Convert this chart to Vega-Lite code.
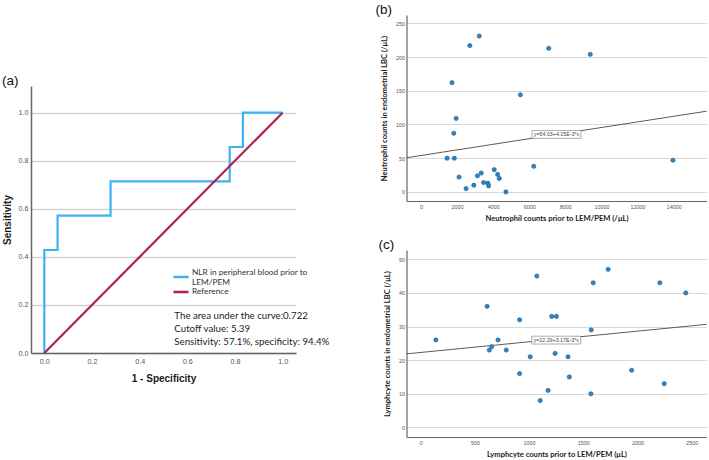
{
  "$schema": "https://vega.github.io/schema/vega-lite/v6.json",
  "padding": {"left": 2, "top": 2, "right": 0, "bottom": 0},
  "background": "white",
  "config": {
    "view": {"stroke": null},
    "axis": {"ticks": false, "labelFont": "Liberation Sans", "labelColor": "#555", "domainColor": "#666", "titleColor": "#1a1a1a", "titleFontWeight": "bold", "labelFlush": false, "labelOverlap": false}
  },
  "datasets": {
    "roc": [
      {"series": "NLR in peripheral blood prior to LEM/PEM", "step": 0, "fpr": 0, "tpr": 0},
      {"series": "NLR in peripheral blood prior to LEM/PEM", "step": 1, "fpr": 0, "tpr": 0.4286},
      {"series": "NLR in peripheral blood prior to LEM/PEM", "step": 2, "fpr": 0.0556, "tpr": 0.4286},
      {"series": "NLR in peripheral blood prior to LEM/PEM", "step": 3, "fpr": 0.0556, "tpr": 0.5714},
      {"series": "NLR in peripheral blood prior to LEM/PEM", "step": 4, "fpr": 0.2778, "tpr": 0.5714},
      {"series": "NLR in peripheral blood prior to LEM/PEM", "step": 5, "fpr": 0.2778, "tpr": 0.7143},
      {"series": "NLR in peripheral blood prior to LEM/PEM", "step": 6, "fpr": 0.7778, "tpr": 0.7143},
      {"series": "NLR in peripheral blood prior to LEM/PEM", "step": 7, "fpr": 0.7778, "tpr": 0.8571},
      {"series": "NLR in peripheral blood prior to LEM/PEM", "step": 8, "fpr": 0.8333, "tpr": 0.8571},
      {"series": "NLR in peripheral blood prior to LEM/PEM", "step": 9, "fpr": 0.8333, "tpr": 1},
      {"series": "NLR in peripheral blood prior to LEM/PEM", "step": 10, "fpr": 1, "tpr": 1},
      {"series": "Reference", "step": 0, "fpr": 0, "tpr": 0},
      {"series": "Reference", "step": 1, "fpr": 1, "tpr": 1}
    ],
    "notes": [
      {"note": ["The area under the curve:0.722", "Cutoff value: 5.39", "Sensitivity: 57.1%, specificity: 94.4%"]}
    ],
    "neut": [
      {"blood": 1450, "lbc": 50}, {"blood": 1720, "lbc": 162}, {"blood": 1820, "lbc": 87},
      {"blood": 1850, "lbc": 50}, {"blood": 1950, "lbc": 109}, {"blood": 2110, "lbc": 22},
      {"blood": 2500, "lbc": 5}, {"blood": 2710, "lbc": 217}, {"blood": 2930, "lbc": 10},
      {"blood": 3130, "lbc": 24}, {"blood": 3230, "lbc": 231}, {"blood": 3340, "lbc": 28},
      {"blood": 3470, "lbc": 14}, {"blood": 3710, "lbc": 13}, {"blood": 3750, "lbc": 9},
      {"blood": 4060, "lbc": 33}, {"blood": 4250, "lbc": 26}, {"blood": 4340, "lbc": 20},
      {"blood": 4710, "lbc": 0}, {"blood": 5510, "lbc": 144}, {"blood": 6250, "lbc": 38},
      {"blood": 7080, "lbc": 213}, {"blood": 9380, "lbc": 204}, {"blood": 13960, "lbc": 47}
    ],
    "neutFit": [
      {"blood": -800, "lbc": 50.71}, {"blood": 15820, "lbc": 119.68}
    ],
    "lymph": [
      {"blood": 140, "lbc": 26}, {"blood": 612, "lbc": 36}, {"blood": 633, "lbc": 23},
      {"blood": 655, "lbc": 24}, {"blood": 713, "lbc": 26}, {"blood": 789, "lbc": 23},
      {"blood": 912, "lbc": 32}, {"blood": 912, "lbc": 16}, {"blood": 1010, "lbc": 21},
      {"blood": 1071, "lbc": 45}, {"blood": 1102, "lbc": 8}, {"blood": 1175, "lbc": 11},
      {"blood": 1209, "lbc": 33}, {"blood": 1239, "lbc": 22}, {"blood": 1252, "lbc": 33},
      {"blood": 1359, "lbc": 21}, {"blood": 1371, "lbc": 15}, {"blood": 1570, "lbc": 10},
      {"blood": 1573, "lbc": 29}, {"blood": 1591, "lbc": 43}, {"blood": 1729, "lbc": 47},
      {"blood": 1946, "lbc": 17}, {"blood": 2206, "lbc": 43}, {"blood": 2246, "lbc": 13},
      {"blood": 2445, "lbc": 40}
    ],
    "lymphFit": [
      {"blood": -131, "lbc": 21.875}, {"blood": 2636, "lbc": 30.65}
    ]
  },
  "hconcat": [
    {
      "spacing": 0,
      "vconcat": [
        {"width": 265, "height": 58, "data": {"values": []}, "mark": "point", "encoding": {}},
        {
          "title": {"text": "(a)", "anchor": "start", "frame": "bounds", "font": "Liberation Sans", "fontSize": 13.5, "fontWeight": "normal", "offset": -1, "color": "#111"},
          "width": 265,
          "height": 267,
          "layer": [
            {
              "data": {"name": "roc"},
              "mark": {"type": "line", "strokeWidth": 2.2},
              "encoding": {
                "x": {"field": "fpr", "type": "quantitative", "scale": {"domain": [-0.056, 1.056], "nice": false, "zero": false},
                  "axis": {"values": [0, 0.2, 0.4, 0.6, 0.8, 1.0], "format": ".1f", "grid": false, "domainWidth": 1.5, "labelFontSize": 7.2, "labelPadding": 4, "title": "1 - Specificity", "titleFont": "Liberation Sans", "titleFontSize": 10, "titlePadding": 9}},
                "y": {"field": "tpr", "type": "quantitative", "scale": {"domain": [0, 1.111], "nice": false, "zero": false},
                  "axis": {"values": [0, 0.2, 0.4, 0.6, 0.8, 1.0], "format": ".1f", "grid": true, "gridColor": "#d4d4d4", "gridWidth": 1.4, "domainWidth": 1.5, "labelFontSize": 7.2, "labelPadding": 3, "title": "Sensitivity", "titleFont": "Liberation Sans", "titleFontSize": 10, "titlePadding": 6}},
                "color": {"field": "series", "type": "nominal",
                  "scale": {"domain": ["NLR in peripheral blood prior to LEM/PEM", "Reference"], "range": ["#3db2f2", "#ad2158"]},
                  "legend": {"orient": "none", "legendX": 145, "legendY": 257, "title": null, "symbolType": "M-2,0H2", "symbolStrokeWidth": 2.5, "symbolSize": 56.25, "symbolFillColor": "transparent", "labelFont": "Lato", "labelFontSize": 8.3, "labelColor": "#333", "labelLimit": 300, "rowPadding": 0, "labelOffset": 6,
                    "labelExpr": "datum.label == 'Reference' ? datum.label : ['NLR in peripheral blood prior to', 'LEM/PEM']",
                    "encode": {"labels": {"update": {"dy": {"signal": "datum.label == 'Reference' ? 0 : -4.5"}}}}}},
                "order": {"field": "step", "type": "quantitative"}
              }
            },
            {
              "data": {"name": "notes"},
              "mark": {"type": "text", "align": "left", "baseline": "middle", "font": "Lato", "fontSize": 9.7, "lineHeight": 13, "color": "#222"},
              "encoding": {
                "x": {"datum": 0.5455},
                "y": {"datum": 0.154},
                "text": {"field": "note"}
              }
            }
          ]
        }
      ]
    },
    {
      "spacing": 15,
      "vconcat": [
        {
          "title": {"text": "(b)", "anchor": "start", "frame": "bounds", "font": "Liberation Sans", "fontSize": 13.5, "fontWeight": "normal", "offset": -1, "dx": -5, "color": "#111"},
          "width": 300,
          "height": 186,
          "encoding": {
            "x": {"field": "blood", "type": "quantitative", "scale": {"domain": [-800, 15820], "nice": false, "zero": false},
              "axis": {"values": [0, 2000, 4000, 6000, 8000, 10000, 12000, 14000], "format": "d", "grid": false, "domainWidth": 1.2, "labelFontSize": 5.4, "labelPadding": 3, "labelOverlap": false, "title": "Neutrophil counts prior to LEM/PEM (/μL)", "titleFont": "Lato", "titleFontSize": 7.6, "titlePadding": 5}},
            "y": {"field": "lbc", "type": "quantitative", "scale": {"domain": [-13.4, 262.3], "nice": false, "zero": false},
              "axis": {"values": [0, 50, 100, 150, 200, 250], "format": "d", "grid": true, "gridColor": "#d9d9d9", "gridWidth": 1.2, "domainWidth": 1.2, "labelFontSize": 5.4, "labelPadding": 2, "labelOverlap": false, "title": "Neutrophil counts in endometrial LBC (/μL)", "titleFont": "Lato", "titleFontSize": 7.6, "titlePadding": 7}}
          },
          "layer": [
            {
              "data": {"name": "neutFit"},
              "mark": {"type": "line", "color": "#5a5a5a", "strokeWidth": 1}
            },
            {
              "data": {"name": "neut"},
              "mark": {"type": "point", "filled": true, "size": 18, "color": "#2a86c8", "stroke": "#1c5a8a", "strokeWidth": 0.6, "opacity": 1}
            },
            {
              "data": {"values": [{"eq": "y=54.03+4.15E-3*x", "blood": 7508, "lbc": 85.2}]},
              "mark": {"type": "point", "shape": "M-1,-0.16H1V0.16H-1Z", "size": 2401, "filled": true, "fill": "white", "stroke": "#777", "strokeWidth": 0.6, "opacity": 1}
            },
            {
              "data": {"values": [{"eq": "y=54.03+4.15E-3*x", "blood": 7508, "lbc": 85.2}]},
              "mark": {"type": "text", "font": "Liberation Sans", "fontSize": 5.3, "color": "#444", "baseline": "middle", "align": "center"},
              "encoding": {"text": {"field": "eq"}}
            }
          ]
        },
        {
          "title": {"text": "(c)", "anchor": "start", "frame": "bounds", "font": "Liberation Sans", "fontSize": 13.5, "fontWeight": "normal", "offset": -1, "dx": -5, "color": "#111"},
          "width": 300,
          "height": 187,
          "encoding": {
            "x": {"field": "blood", "type": "quantitative", "scale": {"domain": [-131, 2636], "nice": false, "zero": false},
              "axis": {"values": [0, 500, 1000, 1500, 2000, 2500], "format": "d", "grid": false, "domainWidth": 1.2, "labelFontSize": 5.4, "labelPadding": 3, "labelOverlap": false, "title": "Lymphcyte counts prior to LEM/PEM (μL)", "titleFont": "Lato", "titleFontSize": 7.6, "titlePadding": 5}},
            "y": {"field": "lbc", "type": "quantitative", "scale": {"domain": [-2.85, 52.76], "nice": false, "zero": false},
              "axis": {"values": [0, 10, 20, 30, 40, 50], "format": "d", "grid": true, "gridColor": "#d9d9d9", "gridWidth": 1.2, "domainWidth": 1.2, "labelFontSize": 5.4, "labelPadding": 2, "labelOverlap": false, "title": "Lymphcyte counts in endometrial LBC (/μL)", "titleFont": "Lato", "titleFontSize": 7.6, "titlePadding": 7}}
          },
          "layer": [
            {
              "data": {"name": "lymphFit"},
              "mark": {"type": "line", "color": "#5a5a5a", "strokeWidth": 1}
            },
            {
              "data": {"name": "lymph"},
              "mark": {"type": "point", "filled": true, "size": 18, "color": "#2a86c8", "stroke": "#1c5a8a", "strokeWidth": 0.6, "opacity": 1}
            },
            {
              "data": {"values": [{"eq": "y=22.29+3.17E-3*x", "blood": 1250, "lbc": 25.96}]},
              "mark": {"type": "point", "shape": "M-1,-0.16H1V0.16H-1Z", "size": 2401, "filled": true, "fill": "white", "stroke": "#777", "strokeWidth": 0.6, "opacity": 1}
            },
            {
              "data": {"values": [{"eq": "y=22.29+3.17E-3*x", "blood": 1250, "lbc": 25.96}]},
              "mark": {"type": "text", "font": "Liberation Sans", "fontSize": 5.3, "color": "#444", "baseline": "middle", "align": "center"},
              "encoding": {"text": {"field": "eq"}}
            }
          ]
        }
      ]
    }
  ],
  "spacing": 45.5
}
